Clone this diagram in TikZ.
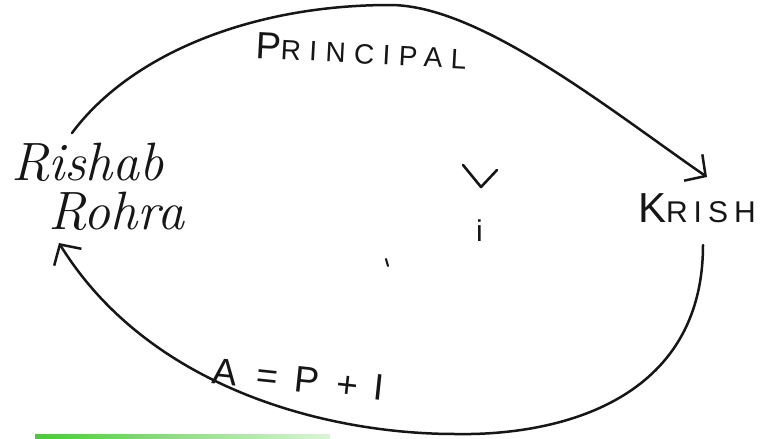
\documentclass[tikz,border=0pt]{standalone}
\usepackage{fontspec}
\usetikzlibrary{arrows.meta}
\newfontfamily\handcaps{Liberation Sans}
\definecolor{ink}{RGB}{22,22,22}
\definecolor{hlgreen}{RGB}{70,205,50}
\begin{document}
\begin{tikzpicture}[x=1pt,y=-1pt,
  flow/.style={draw=ink,line width=2.5pt,line cap=round,
    -{Straight Barb[length=15pt,width=32pt,line width=2.5pt]}},
  lbl/.style={inner sep=0pt,outer sep=0pt,text=ink,anchor=base west},
  cursive/.style={lbl,font=\fontsize{54}{60}\selectfont\itshape}]
\useasboundingbox[fill=white] (0,0) rectangle (777,439);
% nodes
\node[cursive] (rishab) at (11,180) {Rishab};
\node[cursive] (rohra) at (48,229) {Rohra};
\node[lbl,font=\handcaps] (krish) at (638,222)
  {\addfontfeature{LetterSpace=20}\fontsize{42}{46}\selectfont K\fontsize{30}{34}\selectfont RISH};
\node[lbl,font=\handcaps,rotate=-3] (principal) at (255,58)
  {\addfontfeature{LetterSpace=30}\fontsize{38}{42}\selectfont P\fontsize{28}{32}\selectfont RINCIPAL};
\node[lbl,font=\handcaps\fontsize{37}{40}\selectfont,rotate=-6] (amount) at (211,383)
  {A\hspace{20pt}=\hspace{17pt}P\hspace{17pt}+\hspace{16pt}I};
\node[lbl,font=\handcaps\fontsize{30}{34}\selectfont] (ipt) at (476,241) {i};
% connector ends
\coordinate (ts) at (72,133);
\coordinate (tt) at (390,5);
\coordinate (te) at (707,177);
\coordinate (bs) at (703,245);
\coordinate (bb) at (455,434);
\coordinate (be) at (59,243);
% top arc: Rishab Rohra -> Krish
\draw[flow] (ts) .. controls (130,55) and (250,5) .. (tt)
  .. controls (480,5) and (610,110) .. (te);
% bottom arc: Krish -> Rishab Rohra
\draw[flow] (bs) .. controls (703,400) and (560,436) .. (bb)
  .. controls (330,434) and (150,390) .. (be);
% small marks in the middle
\draw[ink,line width=2.6pt,line cap=round,line join=round]
  (463,165) -- (481,187) -- (497,170);
\draw[ink,line width=2pt,line cap=round] (386,259) -- (388,266);
% green highlighter at bottom
\shade[left color=hlgreen,right color=hlgreen!20!white] (35,434) rectangle (330,439);
\end{tikzpicture}
\end{document}
